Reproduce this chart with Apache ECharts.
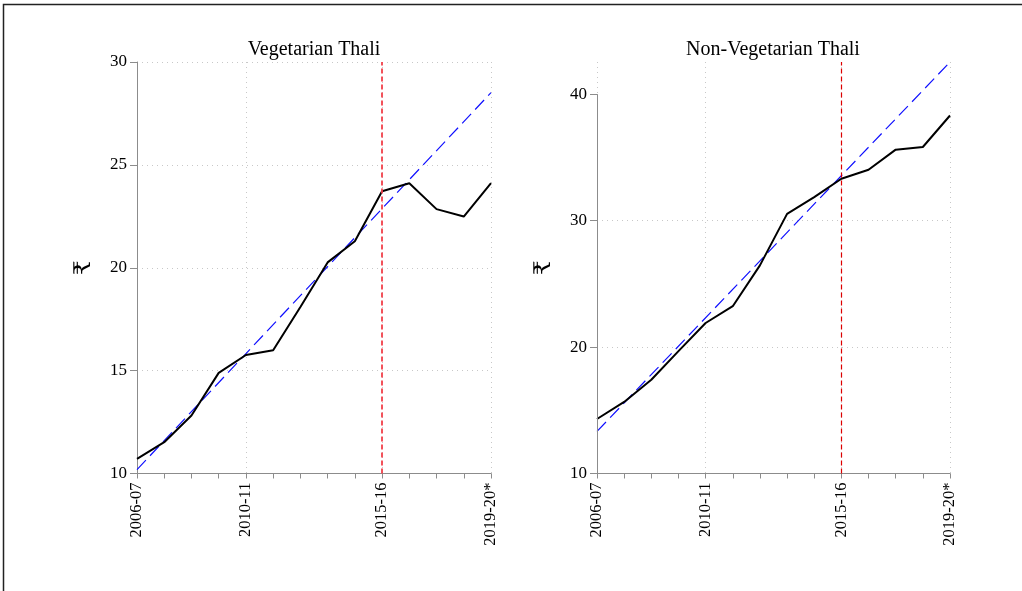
<!DOCTYPE html>
<html>
<head>
<meta charset="utf-8">
<title>Thali prices</title>
<script src="https://cdn.jsdelivr.net/npm/echarts@6/dist/echarts.min.js"></script>
<style>
  html, body { margin: 0; padding: 0; background: #fff; }
  #chart { width: 1022px; height: 591px; }
</style>
</head>
<body>
<div id="chart"></div>
<script>
// Financial years on the horizontal axis
const years = ['2006-07', '2007-08', '2008-09', '2009-10', '2010-11', '2011-12', '2012-13',
  '2013-14', '2014-15', '2015-16', '2016-17', '2017-18', '2018-19', '2019-20*'];
// Years that carry a label and a vertical grid line
const labelledYears = ['2006-07', '2010-11', '2015-16', '2019-20*'];
const breakYear = '2015-16';

// Average thali price (₹)
const vegPrice = [10.71, 11.52, 12.82, 14.89, 15.76, 15.99, 18.09, 20.26, 21.29, 23.72, 24.11, 22.85, 22.49, 24.11];
const nonVegPrice = [14.31, 15.66, 17.41, 19.68, 21.90, 23.23, 26.46, 30.53, 31.85, 33.31, 34.02, 35.61, 35.82, 38.31];

// Linear trend: value at first and last year
const vegTrend = [10.19, 28.51];
const nonVegTrend = [13.33, 42.54];

// Value-axis ticks
const vegTicks = [10, 15, 20, 25, 30];
const nonVegTicks = [10, 20, 30, 40];

const serif = "'Liberation Serif', 'Times New Roman', 'DejaVu Serif', serif";
const axisGrey = '#8c8c8c';
const labelIdx = labelledYears.map(y => years.indexOf(y));

function trendSeries(ends) {
  return years.map((_, i) => i === 0 ? ends[0] : (i === years.length - 1 ? ends[1] : null));
}

function xAxisFor(gridIndex) {
  return {
    type: 'category', gridIndex, data: years, boundaryGap: false,
    axisLine: { show: true, lineStyle: { color: axisGrey, width: 1 } },
    axisTick: { show: true, interval: 0, length: 5, lineStyle: { color: axisGrey } },
    axisLabel: {
      interval: (i) => labelIdx.includes(i), rotate: 90, margin: 9,
      color: '#000', fontFamily: serif, fontSize: 16.5
    },
    splitLine: {
      show: true, interval: (i) => labelIdx.includes(i),
      lineStyle: { color: '#c8c8c8', type: [1, 4], width: 1 }
    }
  };
}

function yAxisFor(gridIndex, ticks, max, showLine) {
  return {
    type: 'value', gridIndex, min: ticks[0], max, interval: ticks[1] - ticks[0],
    name: '₹', nameLocation: 'middle', nameGap: 42, nameRotate: 90,
    nameTextStyle: { color: '#000', fontFamily: serif, fontSize: 23 },
    axisLine: { show: showLine, lineStyle: { color: axisGrey, width: 1 } },
    axisTick: { show: true, length: 7, customValues: ticks, lineStyle: { color: axisGrey } },
    axisLabel: { customValues: ticks, margin: 10, color: '#000', fontFamily: serif, fontSize: 17 },
    splitLine: {
      show: true, showMinLine: false, showMaxLine: max === ticks[ticks.length - 1],
      lineStyle: { color: '#c8c8c8', type: [1, 4], width: 1 }
    }
  };
}

function priceSeries(idx, values, redColor, redWidth, extraLines) {
  return {
    type: 'line', xAxisIndex: idx, yAxisIndex: idx, data: values,
    symbol: 'none', z: 4,
    lineStyle: { color: '#000', width: 2 },
    markLine: {
      silent: true, symbol: 'none', animation: false,
      label: { show: false },
      data: [
        { xAxis: breakYear, lineStyle: { color: redColor, width: redWidth, type: [5, 3] } }
      ].concat(extraLines || [])
    }
  };
}

function trendLine(idx, ends) {
  return {
    type: 'line', xAxisIndex: idx, yAxisIndex: idx, data: trendSeries(ends),
    connectNulls: true, symbol: 'none', z: 3,
    lineStyle: { color: '#1010ff', width: 1.2, type: [13, 6] }
  };
}

const chart = echarts.init(document.getElementById('chart'), null, { renderer: 'canvas' });
chart.setOption({
  animation: false,
  backgroundColor: '#fff',
  title: [
    { text: 'Vegetarian Thali', left: 309, top: 35, textAlign: 'center',
      textStyle: { fontFamily: serif, fontSize: 20, fontWeight: 'normal', color: '#000' } },
    { text: 'Non-Vegetarian Thali', left: 768, top: 35, textAlign: 'center',
      textStyle: { fontFamily: serif, fontSize: 20, fontWeight: 'normal', color: '#000' } }
  ],
  grid: [
    { left: 137, top: 62, width: 354, height: 411.5 },
    { left: 597, top: 62, width: 353, height: 411.5 }
  ],
  xAxis: [xAxisFor(0), xAxisFor(1)],
  yAxis: [
    yAxisFor(0, vegTicks, vegTicks[vegTicks.length - 1], true),
    yAxisFor(1, nonVegTicks, nonVegTrend[1], false)
  ],
  series: [
    trendLine(0, vegTrend),
    priceSeries(0, vegPrice, '#f2404a', 1.8),
    trendLine(1, nonVegTrend),
    priceSeries(1, nonVegPrice, '#dd0000', 1.2, [[
      { coord: [0, nonVegTicks[0]], lineStyle: { color: axisGrey, width: 1, type: 'solid' } },
      { coord: [0, nonVegTicks[nonVegTicks.length - 1]] }
    ]])
  ],
  graphic: [
    { type: 'polyline', silent: true,
      shape: { points: [[3.5, 591], [3.5, 4.5], [1022, 4.5]] },
      style: { stroke: '#222', lineWidth: 1.5, fill: null } }
  ]
});
</script>
</body>
</html>
